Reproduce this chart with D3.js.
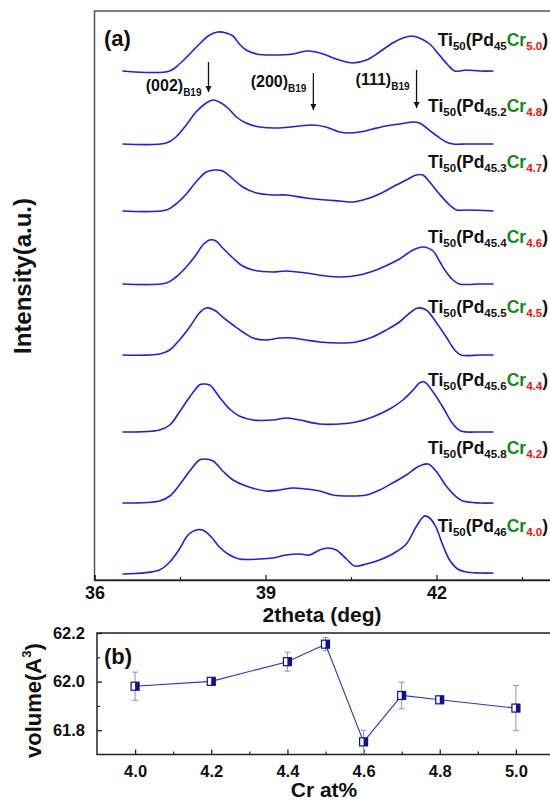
<!DOCTYPE html>
<html>
<head>
<meta charset="utf-8">
<script src="https://cdn.jsdelivr.net/npm/d3@7"></script>
<style>
  body { margin: 0; background: #fff; }
  svg { font-family: "Liberation Sans", Arial, sans-serif; font-weight: bold; }
</style>
</head>
<body>
<svg id="fig" width="550" height="803"></svg>
<script>
// ---- data (a): XRD patterns, [2theta, intensity above own baseline] ----
const crLabels = ["5.0", "4.8", "4.7", "4.6", "4.5", "4.4", "4.2", "4.0"];
const pdLabels = ["45", "45.2", "45.3", "45.4", "45.5", "45.6", "45.8", "46"];
const baseOffsets = [509, 436, 369, 296, 225, 148, 77, 7];
const labelLevels = [534, 468, 412, 337, 267, 194, 126, 48];

const scanCr50 = [[36.49,0],[37.32,0],[37.49,7],[37.67,17],[37.84,27],[38.02,36],[38.16,39],[38.31,38],[38.43,35],[38.54,27],[38.66,21],[38.84,17],[39.13,16],[39.48,17],[39.71,20],[39.89,19],[40.06,16],[40.24,12],[40.42,9],[40.53,8],[40.77,11],[41.0,19],[41.23,28],[41.41,33],[41.56,35],[41.7,33],[41.88,27],[42.05,16],[42.2,6],[42.32,0],[42.52,1],[42.76,0],[43.0,0]];
const scanCr48 = [[36.49,0],[37.26,1],[37.43,7],[37.61,19],[37.78,32],[37.96,41],[38.08,44],[38.19,42],[38.34,36],[38.49,27],[38.66,21],[38.9,17],[39.25,16],[39.6,18],[39.83,19],[40.06,17],[40.3,12],[40.47,11],[40.65,12],[40.88,15],[41.12,18],[41.35,20],[41.59,22],[41.7,21],[41.94,11],[42.17,2],[42.29,0],[42.52,0],[43.0,0]];
const scanCr47 = [[36.49,0],[37.26,1],[37.43,7],[37.61,17],[37.78,29],[37.96,39],[38.1,41],[38.25,40],[38.43,32],[38.6,24],[38.84,18],[39.13,16],[39.36,16],[39.71,13],[40.06,11],[40.3,10],[40.53,9],[40.77,12],[41.0,17],[41.23,24],[41.47,31],[41.64,36],[41.76,36],[41.88,29],[42.05,17],[42.23,6],[42.35,1],[42.52,1],[43.0,0]];
const scanCr46 = [[36.49,0],[37.26,1],[37.43,7],[37.61,17],[37.78,29],[37.9,39],[38.02,44],[38.13,43],[38.25,36],[38.43,26],[38.6,18],[38.78,14],[39.13,12],[39.36,13],[39.71,11],[40.06,8],[40.3,7],[40.65,9],[40.94,14],[41.18,20],[41.35,25],[41.59,34],[41.76,37],[41.94,33],[42.05,23],[42.17,12],[42.29,4],[42.4,0],[42.76,0],[43.0,0]];
const scanCr45 = [[36.49,0],[37.14,1],[37.32,5],[37.49,15],[37.67,28],[37.84,42],[37.96,47],[38.1,45],[38.25,38],[38.43,30],[38.6,23],[38.78,17],[39.01,15],[39.25,17],[39.48,17],[39.71,15],[39.95,13],[40.3,12],[40.59,13],[40.88,18],[41.12,25],[41.35,33],[41.53,42],[41.67,47],[41.82,45],[41.99,33],[42.17,18],[42.32,5],[42.43,0],[42.76,0],[43.0,0]];
const scanCr44 = [[36.49,0],[37.14,2],[37.32,7],[37.49,20],[37.67,35],[37.84,47],[37.9,48],[38.02,47],[38.19,35],[38.37,23],[38.54,16],[38.78,12],[39.13,12],[39.36,14],[39.6,12],[39.95,8],[40.3,8],[40.59,10],[40.88,15],[41.18,23],[41.41,32],[41.59,42],[41.7,49],[41.79,50],[41.94,40],[42.11,25],[42.29,8],[42.43,1],[42.76,0],[43.0,0]];
const scanCr42 = [[36.49,0],[37.14,2],[37.32,7],[37.49,18],[37.67,32],[37.84,43],[37.93,44],[38.08,42],[38.25,32],[38.43,23],[38.66,17],[39.01,12],[39.25,13],[39.48,15],[39.71,14],[39.95,12],[40.18,8],[40.47,7],[40.77,8],[41.0,13],[41.23,20],[41.47,28],[41.7,37],[41.85,39],[41.99,32],[42.17,17],[42.35,6],[42.46,2],[42.76,0],[43.0,0]];
const scanCr40 = [[36.49,-1],[37.14,3],[37.32,11],[37.49,24],[37.64,38],[37.78,43],[37.9,43],[38.05,36],[38.19,26],[38.37,18],[38.54,14],[38.9,14],[39.13,15],[39.36,18],[39.6,19],[39.77,18],[39.95,23],[40.09,25],[40.24,23],[40.42,14],[40.56,7],[40.77,9],[41.0,13],[41.23,19],[41.47,29],[41.64,46],[41.79,57],[41.88,55],[41.99,46],[42.11,28],[42.23,13],[42.37,4],[42.52,1],[42.76,0],[43.0,0]];
const scans = [scanCr50, scanCr48, scanCr47, scanCr46, scanCr45, scanCr44, scanCr42, scanCr40];

// B19 reflections marked with arrows
const peakNames = ["(002)", "(200)", "(111)"];
const peakPos = [38.0, 39.84, 41.65];
const arrowTop = [518, 507, 510];
const arrowTip = [488, 470, 472];
const peakTextLevel = [489, 493, 495];

// ---- data (b): cell volume vs Cr content ----
const crContent = [4.0, 4.2, 4.4, 4.5, 4.6, 4.7, 4.8, 5.0];
const cellVolume = [61.981, 62.001, 62.082, 62.154, 61.752, 61.943, 61.925, 61.891];
const volumeErr = [0.058, 0.01, 0.039, 0.027, 0.048, 0.055, 0.01, 0.093];
const volumeTicks = [61.8, 62.0, 62.2];
const crTicks = [4.0, 4.2, 4.4, 4.6, 4.8, 5.0];

const svg = d3.select("#fig");
const lineBlue = "#2020e0";
const font = "Liberation Sans, Arial, sans-serif";

// ================= panel (a) =================
const xa = d3.scaleLinear().domain([36, 44]).range([94.5, 550.5]);
const ya = d3.scaleLinear().domain([0, 569]).range([580, 11]);
const pa = svg.append("g");

pa.append("rect").attr("x", xa(36)).attr("y", ya(569)).attr("width", xa(44) - xa(36) + 3)
  .attr("height", ya(0) - ya(569)).attr("fill", "none").attr("stroke", "#555").attr("stroke-width", 1.5);

const axA = d3.axisBottom(xa).tickValues([36, 39, 42]).tickSize(-5).tickPadding(6).tickFormat(d3.format("d"));
pa.append("g").attr("transform", "translate(0," + ya(0) + ")").call(axA)
  .call(g => g.select(".domain").attr("stroke", "#222").attr("stroke-width", 1.5))
  .call(g => g.selectAll(".tick line").attr("stroke", "#222").attr("stroke-width", 1.3))
  .call(g => g.selectAll(".tick text").attr("font-size", 18).attr("font-weight", "bold")
    .attr("font-family", font).attr("fill", "#111"));
pa.append("g").attr("transform", "translate(0," + ya(0) + ")")
  .call(d3.axisBottom(xa).tickValues([37.5, 40.5, 43.5]).tickSize(-3).tickFormat(""))
  .call(g => g.select(".domain").remove())
  .call(g => g.selectAll(".tick line").attr("stroke", "#222").attr("stroke-width", 1.2));

const line = d3.line().x(d => xa(d[0])).y(d => d[1]).curve(d3.curveCatmullRom.alpha(0.5));
scans.forEach(function (scan, i) {
  pa.append("path")
    .datum(scan.map(p => [p[0], ya(p[1] + baseOffsets[i])]))
    .attr("fill", "none").attr("stroke", lineBlue).attr("stroke-width", 1.6)
    .attr("stroke-linejoin", "round")
    .attr("d", line);

  const t = pa.append("text").attr("x", 548).attr("y", ya(labelLevels[i]))
    .attr("text-anchor", "end").attr("font-size", 17.5).attr("fill", "#111");
  t.append("tspan").text("Ti");
  t.append("tspan").text("50").attr("font-size", 11.5).attr("dy", 4);
  t.append("tspan").text("(Pd").attr("dy", -4);
  t.append("tspan").text(pdLabels[i]).attr("font-size", 11.5).attr("dy", 4);
  t.append("tspan").text("Cr").attr("fill", "#138a13").attr("dy", -4);
  t.append("tspan").text(crLabels[i]).attr("font-size", 11.5).attr("fill", "#ee1111").attr("dy", 4);
  t.append("tspan").text(")").attr("dy", -4);
});

// peak arrows
svg.append("defs").append("marker").attr("id", "arr").attr("viewBox", "0 0 10 10")
  .attr("refX", 10).attr("refY", 5).attr("markerWidth", 6).attr("markerHeight", 9)
  .attr("markerUnits", "userSpaceOnUse").attr("orient", "auto")
  .append("path").attr("d", "M0,0L10,5L0,10Z").attr("fill", "#111");
peakPos.forEach(function (p, i) {
  pa.append("line").attr("x1", xa(p)).attr("x2", xa(p))
    .attr("y1", ya(arrowTop[i])).attr("y2", ya(arrowTip[i]))
    .attr("stroke", "#111").attr("stroke-width", 1.3).attr("marker-end", "url(#arr)");
  const t = pa.append("text").attr("x", xa(p) - 7).attr("y", ya(peakTextLevel[i]))
    .attr("text-anchor", "end").attr("font-size", 16).attr("fill", "#111");
  t.append("tspan").text(peakNames[i]);
  t.append("tspan").text("B19").attr("font-size", 10).attr("dy", 5);
});

pa.append("text").attr("x", 104).attr("y", 46).attr("font-size", 22).attr("fill", "#111").text("(a)");
pa.append("text").attr("transform", "translate(31,354) rotate(-90)")
  .attr("font-size", 24).attr("fill", "#111").text("Intensity(a.u.)");
pa.append("text").attr("x", 322).attr("y", 622).attr("text-anchor", "middle")
  .attr("font-size", 21).attr("fill", "#111").text("2theta (deg)");

// ================= panel (b) =================
const xb = d3.scaleLinear().domain([3.9, 5.1]).range([97, 554]);
const yb = d3.scaleLinear().domain([61.7, 62.2]).range([754.5, 633]);
const pb = svg.append("g");

pb.append("rect").attr("x", xb(3.9)).attr("y", yb(62.2)).attr("width", xb(5.1) - xb(3.9))
  .attr("height", yb(61.7) - yb(62.2)).attr("fill", "none").attr("stroke", "#222").attr("stroke-width", 1.5);

pb.append("g").attr("transform", "translate(0," + yb(61.7) + ")")
  .call(d3.axisBottom(xb).tickValues(crTicks).tickSize(-5).tickPadding(11).tickFormat(d3.format(".1f")))
  .call(g => g.select(".domain").remove())
  .call(g => g.selectAll(".tick line").attr("stroke", "#222").attr("stroke-width", 1.3))
  .call(g => g.selectAll(".tick text").attr("font-size", 16.5).attr("font-weight", "bold")
    .attr("font-family", font).attr("fill", "#111"));
pb.append("g").attr("transform", "translate(0," + yb(61.7) + ")")
  .call(d3.axisBottom(xb).tickValues([4.1, 4.3, 4.5, 4.7, 4.9]).tickSize(-3).tickFormat(""))
  .call(g => g.select(".domain").remove())
  .call(g => g.selectAll(".tick line").attr("stroke", "#222").attr("stroke-width", 1.2));
pb.append("g").attr("transform", "translate(" + xb(3.9) + ",0)")
  .call(d3.axisLeft(yb).tickValues(volumeTicks).tickSize(-5).tickPadding(12).tickFormat(d3.format(".1f")))
  .call(g => g.select(".domain").remove())
  .call(g => g.selectAll(".tick line").attr("stroke", "#222").attr("stroke-width", 1.3))
  .call(g => g.selectAll(".tick text").attr("font-size", 16.5).attr("font-weight", "bold")
    .attr("font-family", font).attr("fill", "#111"));
pb.append("g").attr("transform", "translate(" + xb(3.9) + ",0)")
  .call(d3.axisLeft(yb).tickValues([61.9, 62.1]).tickSize(-3).tickFormat(""))
  .call(g => g.select(".domain").remove())
  .call(g => g.selectAll(".tick line").attr("stroke", "#222").attr("stroke-width", 1.2));

const pts = crContent.map((c, i) => ({ c: c, v: cellVolume[i], e: volumeErr[i] }));

// error bars
const eb = pb.selectAll(".err").data(pts).enter().append("g").attr("stroke", "#8c8cdc").attr("stroke-width", 1);
eb.append("line").attr("x1", d => xb(d.c)).attr("x2", d => xb(d.c))
  .attr("y1", d => yb(d.v + d.e)).attr("y2", d => yb(d.v - d.e));
eb.append("line").attr("x1", d => xb(d.c) - 3).attr("x2", d => xb(d.c) + 3)
  .attr("y1", d => yb(d.v + d.e)).attr("y2", d => yb(d.v + d.e));
eb.append("line").attr("x1", d => xb(d.c) - 3).attr("x2", d => xb(d.c) + 3)
  .attr("y1", d => yb(d.v - d.e)).attr("y2", d => yb(d.v - d.e));

pb.append("path").datum(pts).attr("fill", "none").attr("stroke", "#3030c8").attr("stroke-width", 1.1)
  .attr("d", d3.line().x(d => xb(d.c)).y(d => yb(d.v)));

// half-filled square markers
const mk = pb.selectAll(".mk").data(pts).enter().append("g")
  .attr("transform", d => "translate(" + xb(d.c) + "," + yb(d.v) + ")");
mk.append("rect").attr("x", -4).attr("y", -4).attr("width", 8).attr("height", 8).attr("fill", "#fff");
mk.append("rect").attr("x", 0).attr("y", -4).attr("width", 4).attr("height", 8).attr("fill", "#10108c");
mk.append("rect").attr("x", -4).attr("y", -4).attr("width", 8).attr("height", 8)
  .attr("fill", "none").attr("stroke", "#10108c").attr("stroke-width", 1.2);

pb.append("text").attr("x", 104).attr("y", 664).attr("font-size", 22).attr("fill", "#111").text("(b)");
const vt = pb.append("text").attr("transform", "translate(41,758) rotate(-90)")
  .attr("font-size", 22).attr("fill", "#111");
vt.append("tspan").text("volume(A");
vt.append("tspan").text("3").attr("font-size", 13).attr("dy", -10);
vt.append("tspan").text(")").attr("dy", 10);
pb.append("text").attr("x", 324).attr("y", 797).attr("text-anchor", "middle")
  .attr("font-size", 21).attr("fill", "#111").text("Cr at%");
</script>
</body>
</html>
